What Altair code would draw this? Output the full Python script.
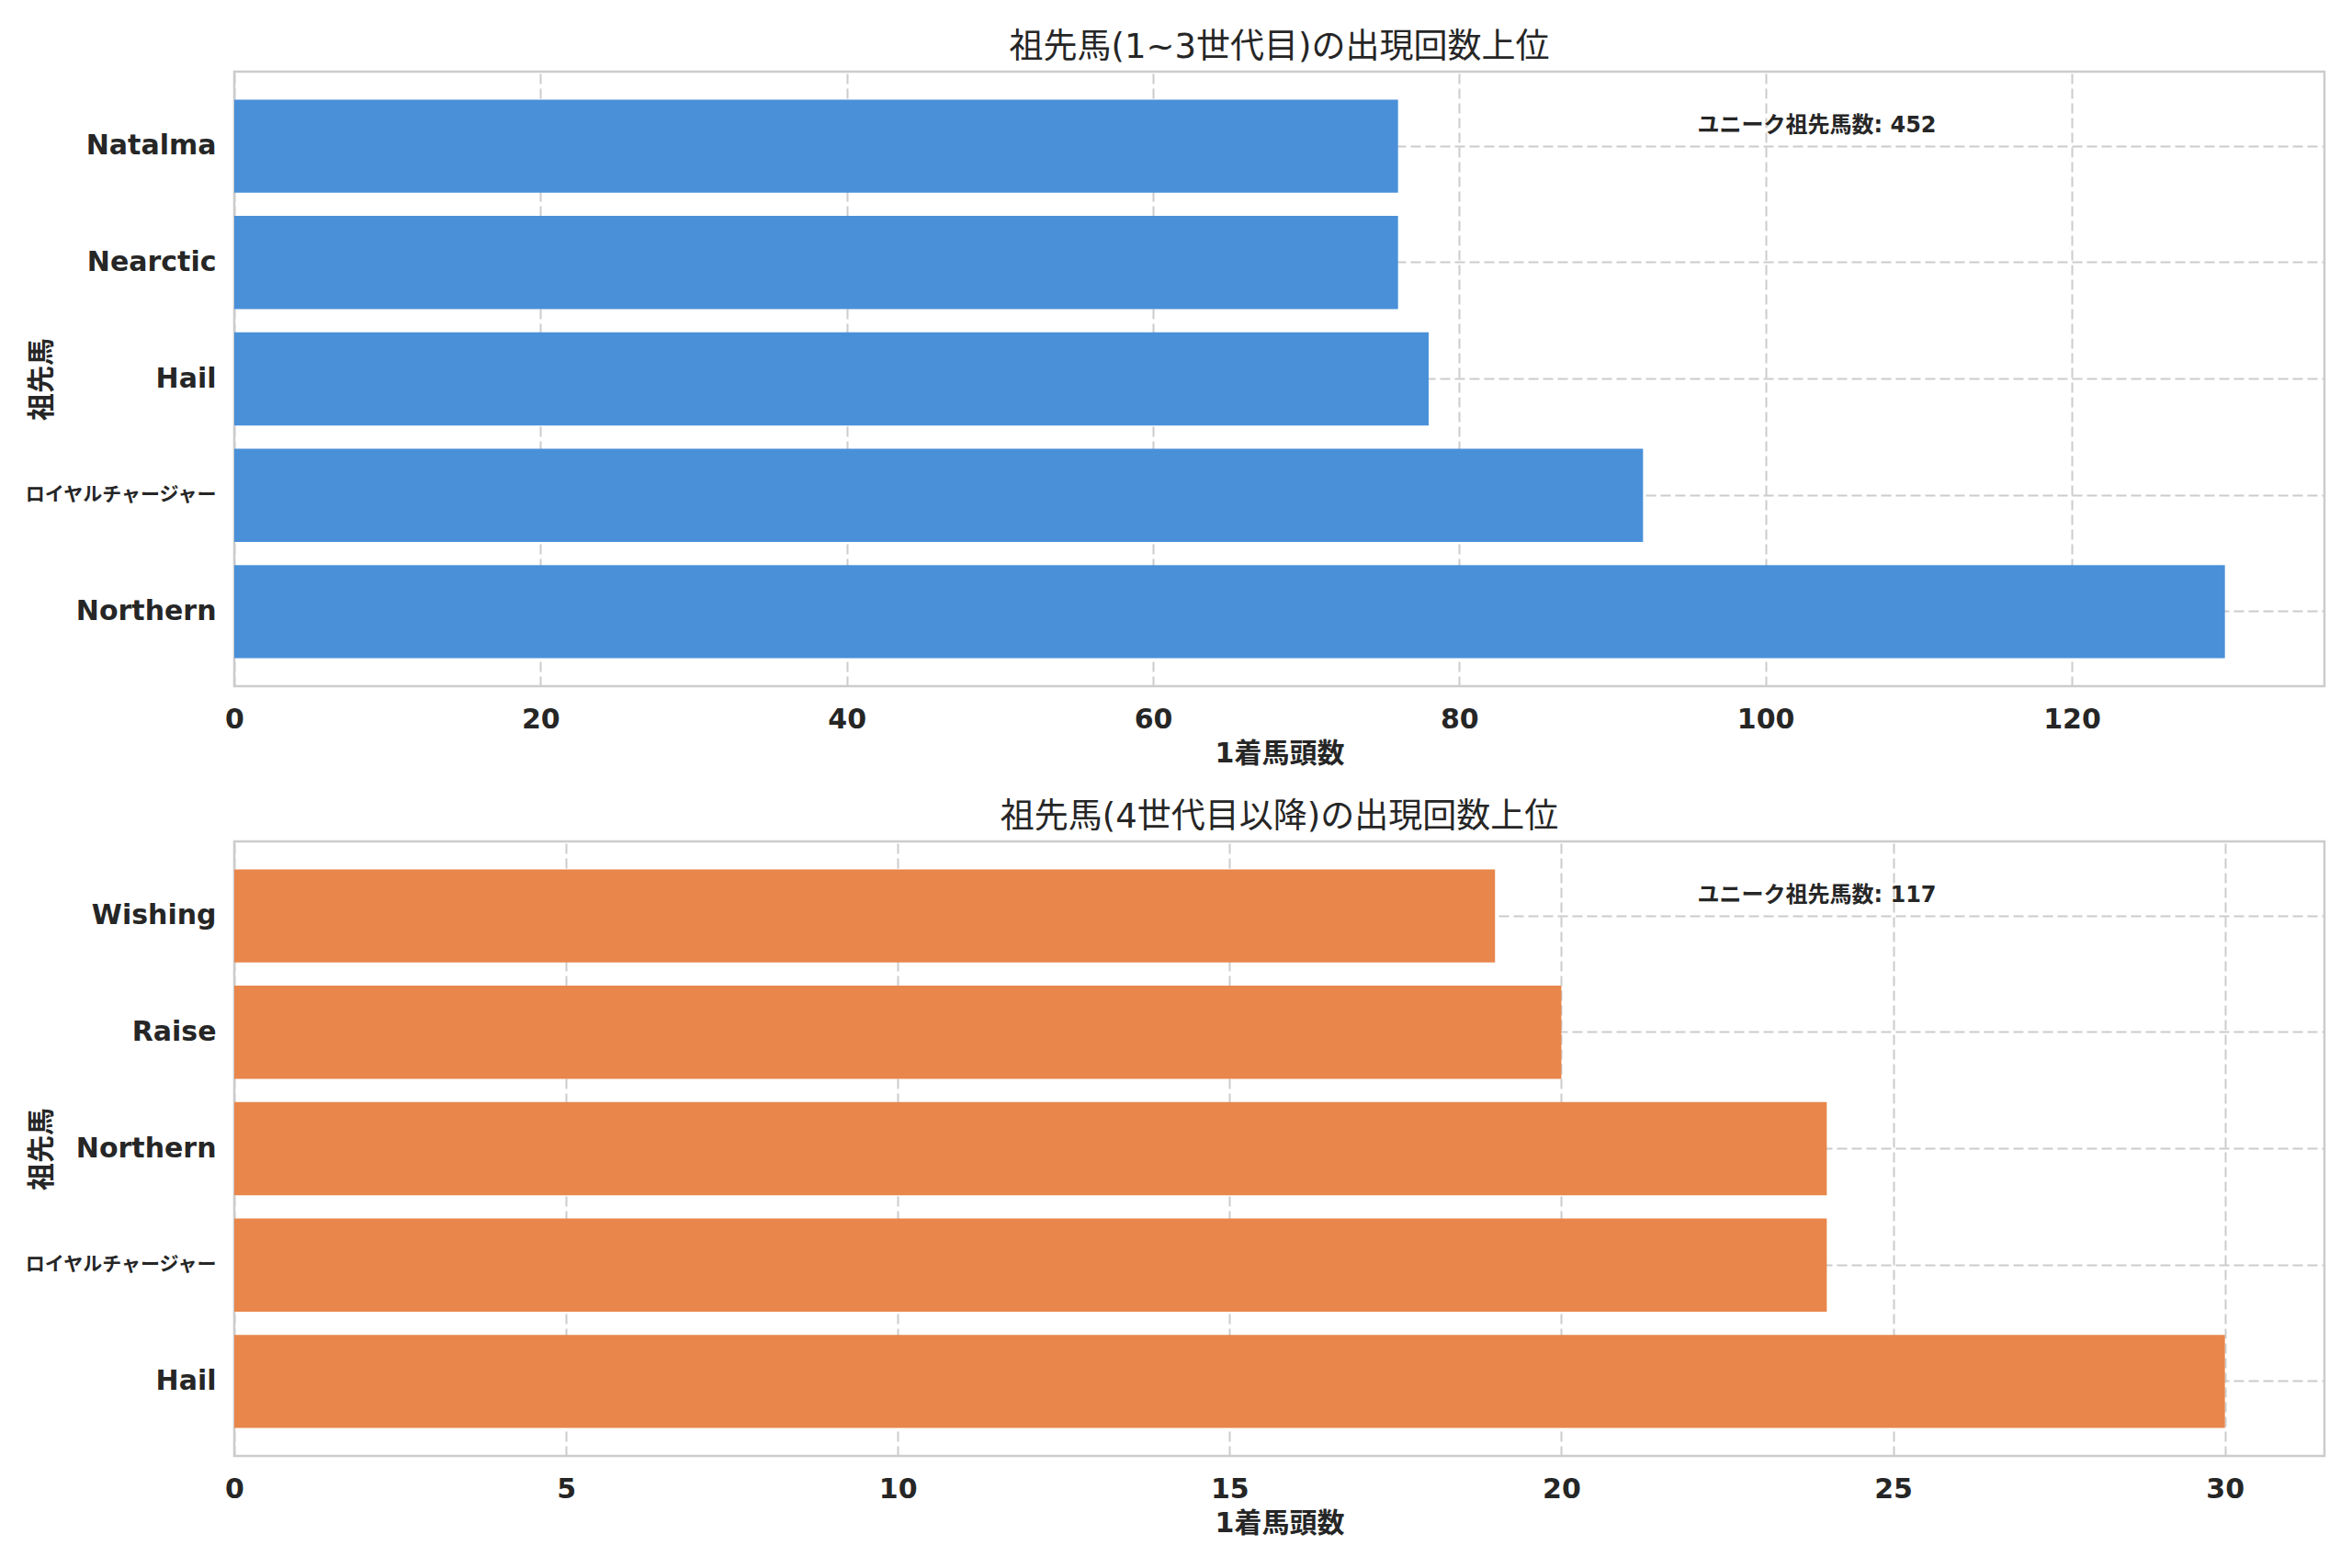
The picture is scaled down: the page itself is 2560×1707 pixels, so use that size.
import altair as alt
import pandas as pd

# ---- data ----
top_names = ["Natalma", "Nearctic", "Hail", "ロイヤルチャージャー", "Northern"]
top_counts = [76, 76, 78, 92, 130]
bottom_names = ["Wishing", "Raise", "Northern", "ロイヤルチャージャー", "Hail"]
bottom_counts = [19, 20, 24, 24, 30]

top_title = "祖先馬(1~3世代目)の出現回数上位"
bottom_title = "祖先馬(4世代目以降)の出現回数上位"
x_title = "1着馬頭数"
y_title = "祖先馬"
note_label = "ユニーク祖先馬数"
top_unique = 452
bottom_unique = 117
top_ticks = [0, 20, 40, 60, 80, 100, 120]
bottom_ticks = [0, 5, 10, 15, 20, 25, 30]
top_xmax = 136.5
bottom_xmax = 31.5

FONT = "DejaVu Sans, Noto Sans CJK JP, sans-serif"
TXT = "#262626"
GRID = "#cccccc"
W, H = 2275, 669
JP_NAME = "ロイヤルチャージャー"


def panel(names, counts, color, xmax, ticks, title, unique):
    df = pd.DataFrame({"name": names, "count": counts})
    bars = alt.Chart(df).mark_bar(color=color).encode(
        x=alt.X(
            "count:Q",
            scale=alt.Scale(domain=[0, xmax], nice=False, zero=True),
            axis=alt.Axis(
                values=ticks, title=x_title, grid=True, gridColor=GRID,
                gridDash=[11, 5], gridWidth=2, ticks=False, tickSize=0,
                domain=False, labelFlush=False, labelFontSize=30,
                labelFontWeight="bold", labelColor=TXT, labelFont=FONT,
                labelPadding=21, titleFontSize=30, titleFontWeight="bold",
                titleColor=TXT, titleFont=FONT, titlePadding=7, format="d",
            ),
        ),
        y=alt.Y(
            "name:N",
            sort=names,
            scale=alt.Scale(paddingInner=0.2, paddingOuter=0.24),
            axis=alt.Axis(
                title=y_title, grid=True, gridColor=GRID, gridDash=[11, 5],
                gridWidth=2, ticks=False, tickSize=0, domain=False,
                bandPosition=0.5, labelLimit=0,
                labelFontSize={"condition": {"test": f"datum.value == '{JP_NAME}'", "value": 21}, "value": 30},
                labelFontWeight="bold", labelColor=TXT, labelFont=FONT,
                labelPadding=20, titleFontSize=30, titleFontWeight="bold",
                titleColor=TXT, titleFont=FONT, titleX=-210, titleY=H / 2,
                titleBaseline="middle", titleAngle=270,
            ),
        ),
    )
    note = alt.Chart(pd.DataFrame({"t": [f"{note_label}: {unique}"]})).mark_text(
        align="left", baseline="middle", fontSize=24, fontWeight="bold",
        color=TXT, font=FONT,
    ).encode(x=alt.datum(0.7 * xmax), y=alt.value(59), text="t:N")
    return alt.layer(bars, note).properties(
        width=W, height=H,
        title=alt.TitleParams(title, fontSize=37, fontWeight="normal", color=TXT,
                              font=FONT, offset=7, anchor="middle"),
    )


top = panel(top_names, top_counts, "#4A90D9", top_xmax, top_ticks, top_title, top_unique)
bottom = panel(bottom_names, bottom_counts, "#E8864B", bottom_xmax, bottom_ticks, bottom_title, bottom_unique)

chart = alt.vconcat(top, bottom, spacing=169, bounds="flush").properties(
    padding={"left": 15, "top": 23, "right": 10, "bottom": 10},
    background="white",
).configure_view(stroke=GRID, strokeWidth=2.5)

chart.save("out.html", embed_options={"renderer": "svg", "actions": False})
